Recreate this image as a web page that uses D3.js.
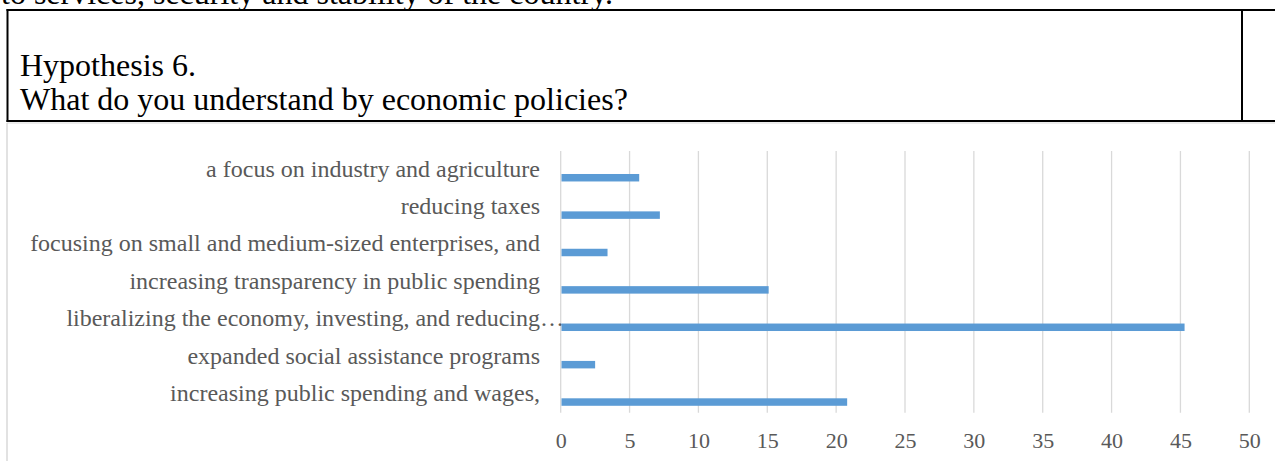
<!DOCTYPE html>
<html>
<head>
<meta charset="utf-8">
<script src="https://cdn.jsdelivr.net/npm/d3@7"></script>
<style>
  html, body { margin: 0; padding: 0; background: #fff; }
  svg { display: block; }
</style>
</head>
<body>
<div id="chart"></div>
<script>
// ---- data ----
const categories = [
  "a focus on industry and agriculture",
  "reducing taxes",
  "focusing on small and medium-sized enterprises, and",
  "increasing transparency in public spending",
  "liberalizing the economy, investing, and reducing…",
  "expanded social assistance programs",
  "increasing public spending and wages,"
];
const values = [5.7, 7.2, 3.4, 15.1, 45.3, 2.5, 20.8];
const tickValues = [0, 5, 10, 15, 20, 25, 30, 35, 40, 45, 50];
const precedingText = "to services, security and stability of the country.";
const titleLines = ["Hypothesis 6.", "What do you understand by economic policies?"];

// ---- layout ----
const W = 1275, H = 461;
const serif = "'Liberation Serif', 'Times New Roman', serif";
const svg = d3.select("#chart").append("svg")
  .attr("width", W).attr("height", H);
svg.append("rect").attr("width", W).attr("height", H).attr("fill", "#fff");

// preceding (cut-off) paragraph line
svg.append("text")
  .attr("x", 1).attr("y", 4)
  .attr("font-family", serif).attr("font-size", 32)
  .attr("fill", "#000").text(precedingText);

// table box
const box = svg.append("g").attr("stroke", "#000").attr("stroke-width", 2);
box.append("line").attr("x1", 6.5).attr("x2", W).attr("y1", 10).attr("y2", 10);
box.append("line").attr("x1", 6.5).attr("x2", W).attr("y1", 121).attr("y2", 121);
box.append("line").attr("x1", 7.5).attr("x2", 7.5).attr("y1", 9).attr("y2", 122);
box.append("line").attr("x1", 1242).attr("x2", 1242).attr("y1", 9).attr("y2", 122);

// title lines
svg.selectAll("text.title").data(titleLines).join("text")
  .attr("class", "title")
  .attr("x", 20).attr("y", (d, i) => 76 + i * 34)
  .attr("font-family", serif).attr("font-size", 32)
  .attr("fill", "#000").text(d => d);

// chart area border (light grey)
svg.append("line").attr("x1", 7).attr("x2", W).attr("y1", 123).attr("y2", 123)
  .attr("stroke", "#d9d9d9").attr("stroke-width", 1.2);
svg.append("line").attr("x1", 7).attr("x2", 7).attr("y1", 123).attr("y2", H)
  .attr("stroke", "#d9d9d9").attr("stroke-width", 1.5);

// scales
const x = d3.scaleLinear().domain([0, 50]).range([560.7, 1249.3]);
const y = d3.scaleBand().domain(categories).range([151, 412.7]).paddingInner(0).paddingOuter(0);

// gridlines
svg.append("g").selectAll("line").data(tickValues).join("line")
  .attr("x1", d => x(d)).attr("x2", d => x(d))
  .attr("y1", 151).attr("y2", 412.7)
  .attr("stroke", "#d9d9d9").attr("stroke-width", 1.3);

// bars
const barH = y.bandwidth() * 0.2;
svg.append("g").selectAll("rect").data(values).join("rect")
  .attr("x", x(0) + 0.8)
  .attr("y", (d, i) => y(categories[i]) + y.bandwidth() * 0.615)
  .attr("width", d => x(d) - x(0) - 0.8)
  .attr("height", barH)
  .attr("fill", "#5B9BD5");

// category labels
const labels = svg.append("g").selectAll("text").data(categories).join("text")
  .attr("x", 540)
  .attr("y", d => y(d) + y.bandwidth() / 2)
  .attr("dy", "0.29em")
  .attr("text-anchor", "end")
  .attr("font-family", serif).attr("font-size", 24)
  .attr("fill", "#595959")
  .text(d => d);
labels.each(function(d) {
  if (d.endsWith("…")) {
    const w = this.getSubStringLength(d.length - 1, 1);
    d3.select(this).attr("x", 540 + w);
  }
});

// x axis tick labels
const xAxis = d3.axisBottom(x).tickValues(tickValues).tickSize(0).tickPadding(0);
const ax = svg.append("g").attr("transform", "translate(0,448)").call(xAxis);
ax.select(".domain").remove();
ax.selectAll("text")
  .attr("dy", 0).attr("y", 0)
  .attr("font-family", serif).attr("font-size", 22)
  .attr("fill", "#595959");
</script>
</body>
</html>
